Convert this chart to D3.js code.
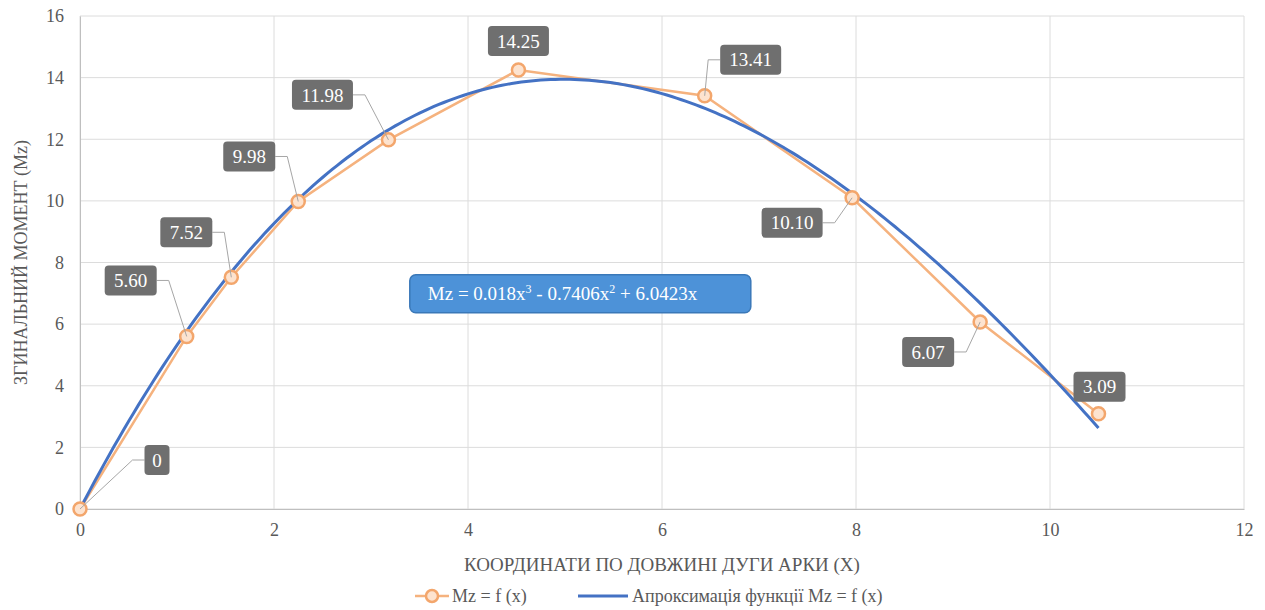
<!DOCTYPE html>
<html>
<head>
<meta charset="utf-8">
<script src="https://cdn.jsdelivr.net/npm/d3@7"></script>
<style>
  body { margin: 0; background: #fff; }
</style>
</head>
<body>
<div id="chart"></div>
<script>
// Data
var xValues = [0, 1.10, 1.56, 2.25, 3.18, 4.52, 6.44, 7.96, 9.28, 10.50];
var mzValues = [0, 5.60, 7.52, 9.98, 11.98, 14.25, 13.41, 10.10, 6.07, 3.09];
var labelText = ["0", "5.60", "7.52", "9.98", "11.98", "14.25", "13.41", "10.10", "6.07", "3.09"];
// label offsets from the point (px), side of the leader
var labelDx = [77, -56, -45, -49, -66, 0, 46, -60, -52, 1];
var labelDy = [-49, -56, -45, -45, -45, -29, -36, 25, 30, -27];
var xTicks = [0, 2, 4, 6, 8, 10, 12];
var yTicks = [0, 2, 4, 6, 8, 10, 12, 14, 16];
// trendline coefficients as shown in the chart: a3*x^3 + a2*x^2 + a1*x
var trendCoef = [0.018, -0.7406, 6.0423];

var fontName = "Liberation Serif";

var svgWidth = 1265;
var svgHeight = 610;
var margin = { top: 16, right: 21, bottom: 101, left: 80 };
var width = svgWidth - margin.left - margin.right;
var height = svgHeight - margin.top - margin.bottom;

var svg = d3.select("#chart")
  .append("svg")
  .attr("width", svgWidth)
  .attr("height", svgHeight)
  .attr("font-family", fontName);

var chartGroup = svg.append("g")
  .attr("transform", `translate(${margin.left}, ${margin.top})`);

var xScale = d3.scaleLinear().domain([0, 12]).range([0, width]);
var yScale = d3.scaleLinear().domain([0, 16]).range([height, 0]);

// gridlines
chartGroup.append("g")
  .selectAll("line")
  .data(yTicks)
  .enter()
  .append("line")
  .attr("x1", 0).attr("x2", width)
  .attr("y1", d => yScale(d)).attr("y2", d => yScale(d))
  .attr("stroke", "#dcdcdc").attr("stroke-width", 1);

chartGroup.append("g")
  .selectAll("line")
  .data(xTicks)
  .enter()
  .append("line")
  .attr("x1", d => xScale(d)).attr("x2", d => xScale(d))
  .attr("y1", 0).attr("y2", height)
  .attr("stroke", "#dcdcdc").attr("stroke-width", 1);

// axes
var bottomAxis = d3.axisBottom(xScale).tickValues(xTicks).tickSize(0).tickPadding(14);
var leftAxis = d3.axisLeft(yScale).tickValues(yTicks).tickSize(0).tickPadding(16);

var xAxisG = chartGroup.append("g")
  .attr("transform", `translate(0, ${height})`)
  .call(bottomAxis);
var yAxisG = chartGroup.append("g").call(leftAxis);

[xAxisG, yAxisG].forEach(function(g) {
  g.attr("font-family", fontName).attr("font-size", 18);
  g.select(".domain").attr("stroke", "#bfbfbf");
  g.selectAll("text").attr("fill", "#595959");
});

// series line
var points = xValues.map((x, i) => ({ x: x, y: mzValues[i], label: labelText[i], dx: labelDx[i], dy: labelDy[i] }));

var line = d3.line().x(d => xScale(d.x)).y(d => yScale(d.y));

chartGroup.append("path")
  .datum(points)
  .attr("d", line)
  .attr("fill", "none")
  .attr("stroke", "#f5b27e")
  .attr("stroke-width", 2.5);

// trendline
var trendX = d3.range(0, 10.5001, 0.05);
var trendPts = trendX.map(x => ({ x: x, y: trendCoef[0] * x * x * x + trendCoef[1] * x * x + trendCoef[2] * x }));

chartGroup.append("path")
  .datum(trendPts)
  .attr("d", line)
  .attr("fill", "none")
  .attr("stroke", "#4472c4")
  .attr("stroke-width", 3);

// markers
chartGroup.selectAll("circle.pt")
  .data(points)
  .enter()
  .append("circle")
  .attr("class", "pt")
  .attr("cx", d => xScale(d.x))
  .attr("cy", d => yScale(d.y))
  .attr("r", 6.5)
  .attr("fill", "#fde3cf")
  .attr("stroke", "#f3a66c")
  .attr("stroke-width", 2.5);

function boxW(d) { return d.label.length * 9 + 16; }

// leader lines
chartGroup.selectAll("path.leader")
  .data(points.filter(d => Math.abs(d.dx) > 5))
  .enter()
  .append("path")
  .attr("class", "leader")
  .attr("d", function(d) {
    var px = xScale(d.x), py = yScale(d.y);
    var lx = px + d.dx, ly = py + d.dy;
    var halfW = boxW(d) / 2;
    var edge = d.dx < 0 ? lx + halfW : lx - halfW;
    var knee = d.dx < 0 ? edge + 12 : edge - 12;
    return `M${edge},${ly}L${knee},${ly}L${px},${py}`;
  })
  .attr("fill", "none")
  .attr("stroke", "#a6a6a6")
  .attr("stroke-width", 1);

// data labels
var labelG = chartGroup.selectAll("g.lbl")
  .data(points)
  .enter()
  .append("g")
  .attr("class", "lbl")
  .attr("transform", d => `translate(${xScale(d.x) + d.dx}, ${yScale(d.y) + d.dy})`);

labelG.append("rect")
  .attr("x", d => -boxW(d) / 2)
  .attr("y", -15)
  .attr("width", d => boxW(d))
  .attr("height", 30)
  .attr("rx", 4)
  .attr("fill", "#6f6f6f");

labelG.append("text")
  .attr("text-anchor", "middle")
  .attr("dy", "0.35em")
  .attr("fill", "#ffffff")
  .attr("font-size", 19)
  .text(d => d.label);

// equation box
var eqG = chartGroup.append("g")
  .attr("transform", `translate(${xScale(3.4)}, ${yScale(7.6)})`);
eqG.append("rect")
  .attr("x", 0).attr("y", 0)
  .attr("width", 341).attr("height", 38)
  .attr("rx", 6)
  .attr("fill", "#4d92d8")
  .attr("stroke", "#3a78b8")
  .attr("stroke-width", 1.5);
var eqText = eqG.append("text")
  .attr("x", 18).attr("y", 25)
  .attr("fill", "#ffffff")
  .attr("font-size", 19);
eqText.append("tspan").text("Mz = " + trendCoef[0] + "x");
eqText.append("tspan").attr("dy", -7).attr("font-size", 12).text("3");
eqText.append("tspan").attr("dy", 7).text(" - " + Math.abs(trendCoef[1]) + "x");
eqText.append("tspan").attr("dy", -7).attr("font-size", 12).text("2");
eqText.append("tspan").attr("dy", 7).text(" + " + trendCoef[2] + "x");

// axis titles
svg.append("text")
  .attr("transform", `translate(27, ${margin.top + height / 2}) rotate(-90)`)
  .attr("text-anchor", "middle")
  .attr("fill", "#595959")
  .attr("font-size", 18)
  .text("ЗГИНАЛЬНИЙ МОМЕНТ (Mz)");

svg.append("text")
  .attr("x", margin.left + width / 2)
  .attr("y", 571)
  .attr("text-anchor", "middle")
  .attr("fill", "#595959")
  .attr("font-size", 19)
  .text("КООРДИНАТИ ПО ДОВЖИНІ ДУГИ АРКИ (X)");

// legend
var legend = svg.append("g").attr("transform", "translate(0, 596)");
legend.append("line")
  .attr("x1", 415).attr("x2", 449).attr("y1", 0).attr("y2", 0)
  .attr("stroke", "#f5b27e").attr("stroke-width", 2.5);
legend.append("circle")
  .attr("cx", 432).attr("cy", 0).attr("r", 6)
  .attr("fill", "#fde3cf").attr("stroke", "#f3a66c").attr("stroke-width", 2.5);
legend.append("text")
  .attr("x", 452).attr("y", 6)
  .attr("fill", "#595959")
  .attr("font-size", 18)
  .text("Mz = f (x)");
legend.append("line")
  .attr("x1", 578).attr("x2", 628).attr("y1", 0).attr("y2", 0)
  .attr("stroke", "#4472c4").attr("stroke-width", 3);
legend.append("text")
  .attr("x", 632).attr("y", 6)
  .attr("fill", "#595959")
  .attr("font-size", 18)
  .text("Апроксимація функції Mz = f (x)");

svg.selectAll("text").style("font-family", `"${fontName}"`);
</script>
</body>
</html>
